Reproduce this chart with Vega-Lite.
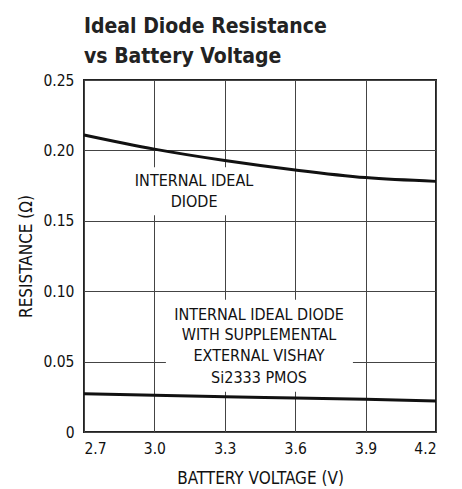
{
  "$schema": "https://vega.github.io/schema/vega-lite/v6.json",
  "autosize": {"type": "none"},
  "width": 352,
  "height": 352,
  "padding": {"left": 84, "top": 80, "right": 26, "bottom": 57},
  "background": "white",
  "config": {
    "font": "'Liberation Sans Narrow', 'DejaVu Sans Condensed', 'Liberation Sans', sans-serif",
    "view": {"stroke": "#222", "strokeWidth": 2},
    "axis": {
      "grid": true,
      "gridColor": "#444",
      "gridWidth": 1,
      "gridOpacity": 1,
      "domain": false,
      "ticks": false,
      "labelFont": "'Liberation Sans Narrow', 'DejaVu Sans Condensed', 'Liberation Sans', sans-serif",
      "labelFontSize": 15.5,
      "labelColor": "#111",
      "titleFont": "'Liberation Sans Narrow', 'DejaVu Sans Condensed', 'Liberation Sans', sans-serif",
      "titleFontSize": 17,
      "titleFontWeight": "normal",
      "titleColor": "#111"
    }
  },
  "title": {
    "text": ["Ideal Diode Resistance", "vs Battery Voltage"],
    "anchor": "start",
    "frame": "group",
    "font": "'Liberation Sans Narrow', 'DejaVu Sans Condensed', 'Liberation Sans', sans-serif",
    "fontSize": 21,
    "fontWeight": "bold",
    "lineHeight": 30,
    "color": "#222",
    "offset": 6
  },
  "layer": [
    {
      "data": {"values": [
        {"x": 2.883, "x2": 3.446, "y": 0.154, "y2": 0.188},
        {"x": 3.049, "x2": 3.846, "y": 0.0285, "y2": 0.094}
      ]},
      "mark": {"type": "rect", "color": "white"},
      "encoding": {
        "x": {"field": "x", "type": "quantitative"},
        "x2": {"field": "x2"},
        "y": {"field": "y", "type": "quantitative"},
        "y2": {"field": "y2"}
      }
    },
    {
      "data": {"values": [
        {"series": "internal", "v": 2.7, "r": 0.211},
        {"series": "internal", "v": 3.0, "r": 0.2009},
        {"series": "internal", "v": 3.3, "r": 0.1928},
        {"series": "internal", "v": 3.6, "r": 0.1861},
        {"series": "internal", "v": 3.9, "r": 0.1807},
        {"series": "internal", "v": 4.2, "r": 0.178},
        {"series": "external", "v": 2.7, "r": 0.0271},
        {"series": "external", "v": 3.0, "r": 0.0261},
        {"series": "external", "v": 3.3, "r": 0.0251},
        {"series": "external", "v": 3.6, "r": 0.0242},
        {"series": "external", "v": 3.9, "r": 0.0233},
        {"series": "external", "v": 4.2, "r": 0.0221}
      ]},
      "mark": {"type": "line", "color": "#111", "strokeWidth": 3, "interpolate": "monotone"},
      "encoding": {
        "x": {
          "field": "v", "type": "quantitative",
          "scale": {"domain": [2.7, 4.2], "nice": false, "zero": false},
          "axis": {
            "values": [2.7, 3.0, 3.3, 3.6, 3.9, 4.2],
            "format": ".1f",
            "labelPadding": 9,
            "title": "BATTERY VOLTAGE (V)",
            "titleY": 46,
            "titleBaseline": "middle"
          }
        },
        "y": {
          "field": "r", "type": "quantitative",
          "scale": {"domain": [0, 0.25], "nice": false},
          "axis": {
            "values": [0, 0.05, 0.1, 0.15, 0.2, 0.25],
            "labelExpr": "datum.value == 0 ? '0' : format(datum.value, '.2f')",
            "labelPadding": 10,
            "title": "RESISTANCE (Ω)",
            "titleX": -58,
            "titleBaseline": "middle"
          }
        },
        "detail": {"field": "series"}
      }
    },
    {
      "data": {"values": [
        {"x": 3.169, "y": 0.178, "label": "INTERNAL IDEAL"},
        {"x": 3.169, "y": 0.163, "label": "DIODE"},
        {"x": 3.446, "y": 0.0833, "label": "INTERNAL IDEAL DIODE"},
        {"x": 3.446, "y": 0.0686, "label": "WITH SUPPLEMENTAL"},
        {"x": 3.446, "y": 0.0537, "label": "EXTERNAL VISHAY"},
        {"x": 3.446, "y": 0.0385, "label": "Si2333 PMOS"}
      ]},
      "mark": {"type": "text", "font": "'Liberation Sans Narrow', 'DejaVu Sans Condensed', 'Liberation Sans', sans-serif", "fontSize": 16, "color": "#111", "align": "center", "baseline": "middle"},
      "encoding": {
        "x": {"field": "x", "type": "quantitative"},
        "y": {"field": "y", "type": "quantitative"},
        "text": {"field": "label"}
      }
    }
  ]
}
